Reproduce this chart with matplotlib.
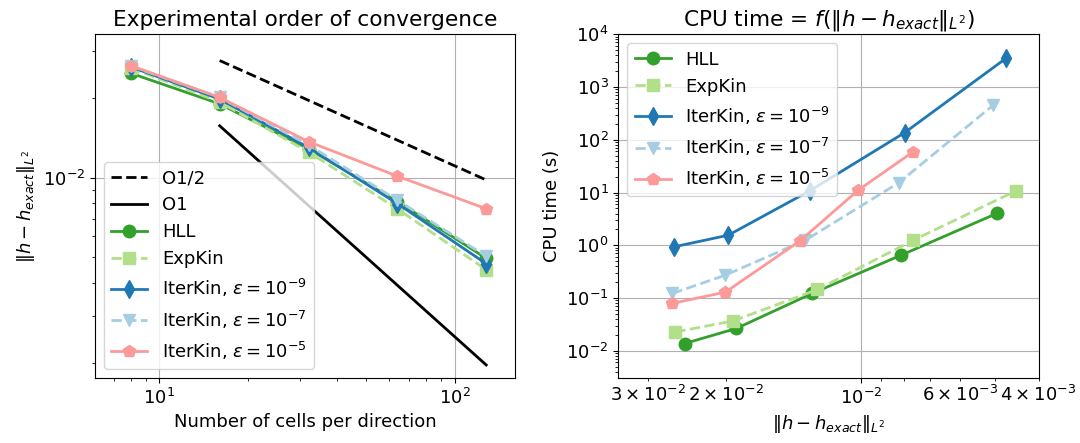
import matplotlib
matplotlib.use("Agg")
import matplotlib.pyplot as plt

plt.rcParams['font.size'] = 13

cells = [8, 16, 32, 64, 128]

# L2 errors
err_hll = [0.0248, 0.0190, 0.01285, 0.00812, 0.00496]
err_expkin = [0.0260, 0.0193, 0.0125, 0.00762, 0.00449]
err_iter9 = [0.0262, 0.0198, 0.0130, 0.00798, 0.00473]
err_iter7 = [0.0264, 0.0201, 0.0133, 0.00822, 0.00505]
err_iter5 = [0.0265, 0.0201, 0.01368, 0.01013, 0.00763]

# CPU times (s)
cpu_hll = [0.0137, 0.0264, 0.122, 0.649, 4.01]
cpu_expkin = [0.0227, 0.0367, 0.145, 1.25, 10.8]
cpu_iter9 = [0.933, 1.55, 10.8, 136, 3505]
cpu_iter7 = [0.122, 0.271, 1.25, 15.3, 455]
cpu_iter5 = [0.0787, 0.129, 1.21, 11.1, 59.2]

# reference slopes
ref_cells = [16, 128]
ref_half = [0.0277, 0.0098]
ref_one = [0.0157, 0.00196]

labels = ['HLL', 'ExpKin', r'IterKin, $\varepsilon=10^{-9}$',
          r'IterKin, $\varepsilon=10^{-7}$', r'IterKin, $\varepsilon=10^{-5}$']
colors = ['#33a02c', '#b2df8a', '#1f78b4', '#a6cee3', '#fb9a99']
markers = ['o', 's', 'd', 'v', 'p']
styles = ['-', '--', '-', '--', '-']
errs = [err_hll, err_expkin, err_iter9, err_iter7, err_iter5]
cpus = [cpu_hll, cpu_expkin, cpu_iter9, cpu_iter7, cpu_iter5]

fig = plt.figure(figsize=(10.8, 4.43), dpi=100)
ax1 = fig.add_axes([95/1080, 1-378/443, (514.8-95)/1080, (378-34.3)/443])
ax2 = fig.add_axes([618.3/1080, 1-377.7/443, (1038.5-618.3)/1080, (377.7-34.3)/443])

ax1.plot(ref_cells, ref_half, 'k--', lw=2, label='O1/2')
ax1.plot(ref_cells, ref_one, 'k-', lw=2, label='O1')
for e, lab, c, m, s in zip(errs, labels, colors, markers, styles):
    ax1.plot(cells, e, linestyle=s, marker=m, color=c, lw=2, ms=9, label=lab)
ax1.set_xscale('log')
ax1.set_yscale('log')
ax1.set_xlim(6.05, 160)
ax1.set_ylim(0.00175, 0.0348)
ax1.grid(True)
ax1.set_title('Experimental order of convergence')
ax1.set_xlabel('Number of cells per direction')
ax1.set_ylabel(r'$\|h-h_{exact}\|_{L^2}$')
ax1.legend(loc='lower left')

for e, t, lab, c, m, s in zip(errs, cpus, labels, colors, markers, styles):
    ax2.plot(e, t, linestyle=s, marker=m, color=c, lw=2, ms=9, label=lab)
ax2.set_xscale('log')
ax2.set_yscale('log')
ax2.set_xlim(0.0349, 0.004)
ax2.set_ylim(3.08e-3, 1e4)
ax2.grid(True)
ax2.set_title(r'CPU time = $f(\|h-h_{exact}\|_{L^2})$')
ax2.set_xlabel(r'$\|h-h_{exact}\|_{L^2}$')
ax2.set_ylabel('CPU time (s)')
ax2.legend(loc='upper left')

fig.savefig('out.png', dpi=100)
